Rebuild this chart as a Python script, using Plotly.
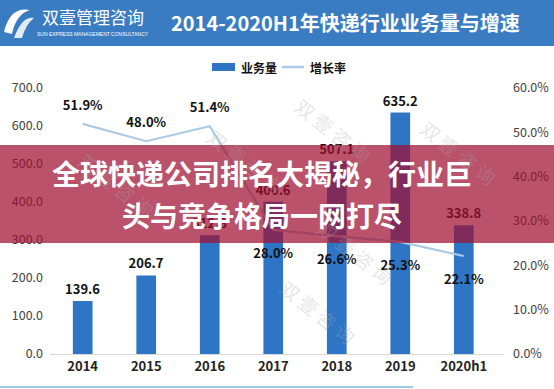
import plotly.graph_objects as go

categories = ["2014", "2015", "2016", "2017", "2018", "2019", "2020h1"]
volume = [139.6, 206.7, 312.8, 400.6, 507.1, 635.2, 338.8]
growth = [51.9, 48.0, 51.4, 28.0, 26.6, 25.3, 22.1]
left_ticks = [0, 100, 200, 300, 400, 500, 600, 700]
right_ticks = [0, 10, 20, 30, 40, 50, 60]

W, H = 554, 389
FONT = "Noto Sans CJK SC"

def px(x):
    return x / W

def py(y):
    return 1 - y / H

fig = go.Figure()

fig.add_trace(go.Bar(
    x=categories, y=volume, name="业务量",
    marker=dict(color="#2E75C6", line=dict(width=0)),
    text=[f"{v:.1f}" for v in volume], textposition="outside",
    constraintext="none",
    textfont=dict(family=FONT, size=13, color="#111111", weight="bold"),
    cliponaxis=False, yaxis="y",
))

fig.add_trace(go.Scatter(
    x=categories, y=growth, name="增长率", mode="lines+markers+text",
    line=dict(color="rgb(172,202,228)", width=2.2),
    marker=dict(size=[16, 16, 16, 28, 28, 28, 28], color="rgba(0,0,0,0)",
                line=dict(width=0)),
    text=[f"{v:.1f}%" for v in growth],
    textposition=["top center"] * 3 + ["bottom center"] * 4,
    textfont=dict(family=FONT, size=13, color="#111111", weight="bold"),
    cliponaxis=False, yaxis="y2",
))

fig.update_layout(
    width=W, height=H, autosize=False,
    margin=dict(l=0, r=0, t=0, b=0, autoexpand=False),
    paper_bgcolor="white", plot_bgcolor="rgba(0,0,0,0)",
    showlegend=False,
    bargap=0.69,
    font=dict(family=FONT),
    xaxis=dict(
        domain=[px(50), px(504)],
        showline=True, linecolor="#d9d9d9", linewidth=1,
        ticks="", showgrid=False, automargin=False,
        tickfont=dict(family=FONT, size=13, color="#222222", weight="bold"),
    ),
    yaxis=dict(
        domain=[1 - 354 / H, 1 - 88 / H],
        range=[0, 700], tickvals=left_ticks,
        ticktext=[f"{v:.1f}" for v in left_ticks],
        showgrid=False, zeroline=False, showline=False, automargin=False,
        tickfont=dict(family=FONT, size=12.5, color="#404040"),
        ticklabelstandoff=6,
    ),
    yaxis2=dict(
        overlaying="y", side="right",
        range=[0, 60], tickvals=right_ticks,
        ticktext=[f"{v:.1f}%" for v in right_ticks],
        showgrid=False, zeroline=False, showline=False, automargin=False,
        tickfont=dict(family=FONT, size=12.5, color="#404040"),
        ticklabelstandoff=8,
    ),
)

shapes = []
annotations = []

# header band
shapes.append(dict(type="rect", xref="paper", yref="paper", x0=0, x1=1,
                   y0=py(46), y1=py(0), fillcolor="#3A7CC2", opacity=1,
                   line=dict(width=0), layer="below"))
# logo icon (stylised swoosh)
shapes.append(dict(type="path", xref="paper", yref="paper",
                   path=f"M {px(4)},{py(32)} Q {px(10)},{py(6)} {px(30)},{py(10)} "
                        f"Q {px(16)},{py(14)} {px(12)},{py(34)} Z",
                   fillcolor="white", line=dict(width=0), layer="above"))
shapes.append(dict(type="path", xref="paper", yref="paper",
                   path=f"M {px(14)},{py(38)} Q {px(22)},{py(16)} {px(34)},{py(18)} "
                        f"Q {px(26)},{py(24)} {px(22)},{py(38)} Z",
                   fillcolor="rgba(255,255,255,0.85)", line=dict(width=0), layer="above"))
annotations.append(dict(xref="paper", yref="paper", x=px(93), y=py(17),
                        xanchor="center", yanchor="middle",
                        text="双壹管理咨询", showarrow=False,
                        font=dict(family=FONT, size=17, color="#FFFFFF")))
annotations.append(dict(xref="paper", yref="paper", x=px(93), y=py(34),
                        xanchor="center", yanchor="middle",
                        text="SUN EXPRESS MANAGEMENT CONSULTANCY", showarrow=False,
                        font=dict(family="Liberation Sans", size=5, color="#FFFFFF")))
annotations.append(dict(xref="paper", yref="paper", x=px(345), y=py(22),
                        xanchor="center", yanchor="middle",
                        text="<b>2014-2020H1年快递行业业务量与增速</b>", showarrow=False,
                        font=dict(family=FONT, size=20, color="#FFFFFF")))

# legend
shapes.append(dict(type="rect", xref="paper", yref="paper", x0=px(212), x1=px(235),
                   y0=py(71), y1=py(63), fillcolor="#2E75C6", line=dict(width=0)))
annotations.append(dict(xref="paper", yref="paper", x=px(239), y=py(67),
                        xanchor="left", yanchor="middle",
                        text="业务量", showarrow=False,
                        font=dict(family=FONT, size=12, color="#111111", weight="bold")))
shapes.append(dict(type="line", xref="paper", yref="paper", x0=px(282), x1=px(304),
                   y0=py(67), y1=py(67), line=dict(color="rgb(172,202,228)", width=2.5)))
annotations.append(dict(xref="paper", yref="paper", x=px(308), y=py(67),
                        xanchor="left", yanchor="middle",
                        text="增长率", showarrow=False,
                        font=dict(family=FONT, size=12, color="#111111", weight="bold")))

# bottom decorative line
shapes.append(dict(type="line", xref="paper", yref="paper", x0=0, x1=px(413),
                   y0=py(387), y1=py(387), line=dict(color="rgb(160,200,232)", width=2)))

# watermarks
for (wx, wy) in [(245, 120), (380, 130), (505, 112), (402, 293), (318, 352), (70, 185)]:
    annotations.append(dict(xref="paper", yref="paper", x=px(wx), y=py(wy),
                            text="双 壹 咨 询", showarrow=False, textangle=38,
                            font=dict(family=FONT, size=19, color="rgba(170,170,170,0.3)")))

# overlay band
shapes.append(dict(type="rect", xref="paper", yref="paper", x0=0, x1=1,
                   y0=py(243), y1=py(145), fillcolor="rgba(160,15,50,0.72)",
                   line=dict(width=0), layer="above"))
annotations.append(dict(xref="paper", yref="paper", x=px(262), y=py(173),
                        text="<b>全球快递公司排名大揭秘，行业巨</b>", showarrow=False,
                        font=dict(family=FONT, size=28, color="white")))
annotations.append(dict(xref="paper", yref="paper", x=px(262), y=py(215),
                        text="<b>头与竞争格局一网打尽</b>", showarrow=False,
                        font=dict(family=FONT, size=28, color="white")))

fig.update_layout(shapes=shapes, annotations=annotations)

fig.write_html(
    "out.html",
    config={"displayModeBar": False},
    post_script="document.body.style.margin='0';document.body.style.padding='0';"
                "document.body.style.overflow='hidden';",
)
